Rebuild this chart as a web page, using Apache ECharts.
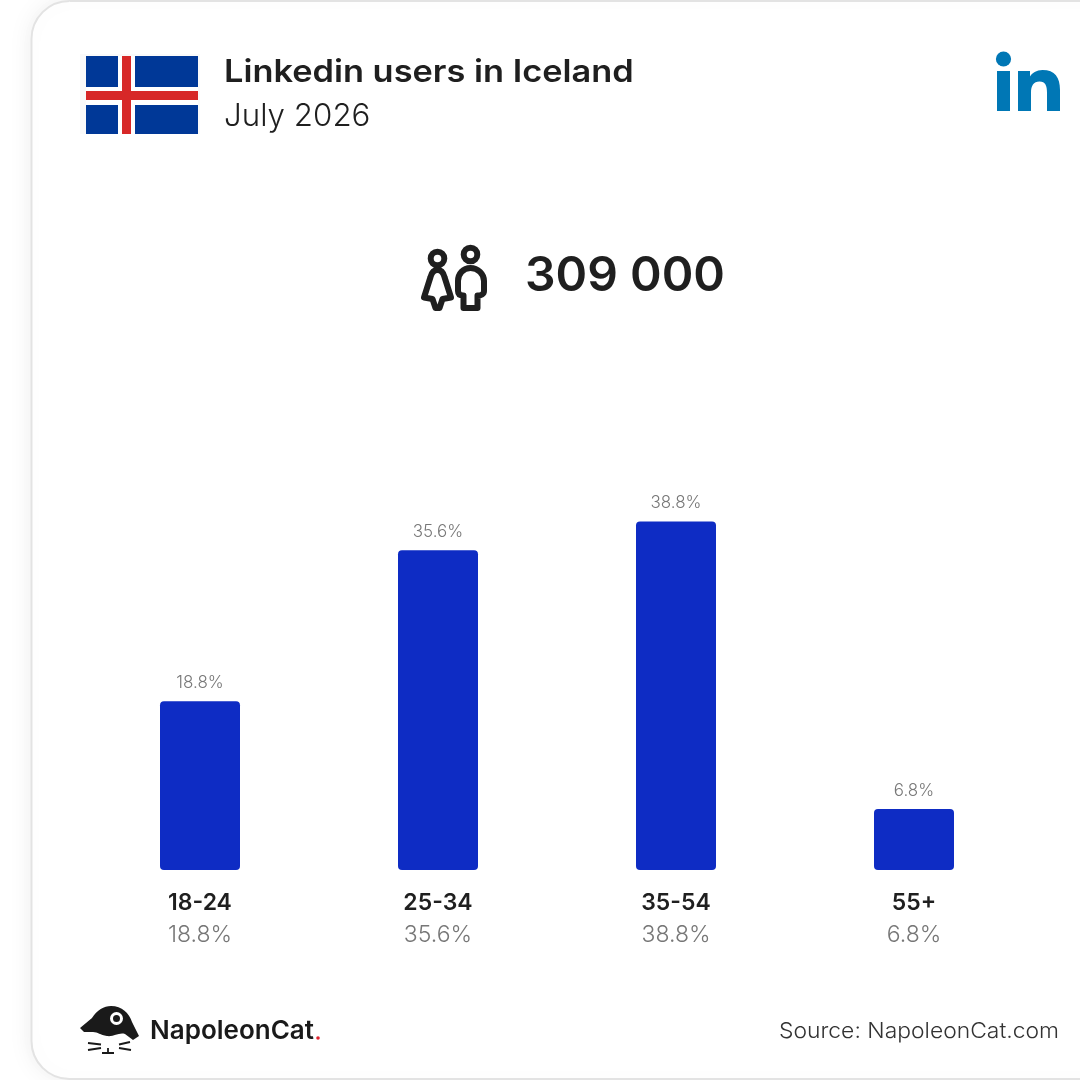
<!DOCTYPE html>
<html>
<head>
<meta charset="utf-8">
<style>html,body{margin:0;padding:0;background:#fff}#c{width:1080px;height:1080px}</style>
<script src="https://cdn.jsdelivr.net/npm/echarts@6/dist/echarts.min.js"></script>
</head>
<body>
<div id="c"></div>
<script>
const categories = ['18-24', '25-34', '35-54', '55+'];
const shares = [18.8, 35.6, 38.8, 6.8];
const titleText = 'Linkedin users in Iceland';
const dateText = 'July 2026';
const totalText = '309 000';
const sourceText = 'Source: NapoleonCat.com';
const brandText = 'NapoleonCat';

const FONT = 'Inter, "Open Sans", sans-serif';
const chart = echarts.init(document.getElementById('c'), null, {renderer: 'canvas'});

const ink = '#1f1f1f';
let shapeCount = 0;
const pathEl = (pathData, style, z) => {
  const name = 'iconPath' + (shapeCount++);
  echarts.graphic.registerShape(name, echarts.graphic.extendPath(pathData, {}));
  return {type: name, z: z || 3, style};
};
const rect = (x, y, width, height, fill, z) => ({type: 'rect', shape: {x, y, width, height}, style: {fill}, z: z || 2});
const txt = (x, y, text, fontSize, fontWeight, fill, align, scaleX) => ({
  type: 'text', x, y, z: 5, scaleX: scaleX || 1,
  style: {text, fontSize, fontWeight, fill, fontFamily: FONT, align: align || 'left', verticalAlign: 'middle'}
});

const graphic = [
  {type: 'rect', z: 0, shape: {x: 31.5, y: 1, width: 1100, height: 1078, r: 38},
    style: {fill: '#fff', stroke: '#e3e3e3', lineWidth: 2, shadowBlur: 26, shadowColor: 'rgba(0,0,0,0.07)'}},
  rect(80, 54, 120, 80, '#fafafa'),
  rect(86, 56, 112, 78, '#003897'),
  rect(86, 87, 112, 18, '#ffffff', 3),
  rect(118, 56, 17, 78, '#ffffff', 3),
  rect(86, 91, 112, 9, '#d72828', 4),
  rect(122, 56, 9, 78, '#d72828', 4),
  txt(224, 73, titleText, 31, 600, ink, 'left', 1.108),
  txt(224, 116.5, dateText, 31, 300, ink, 'left', 1.01),
  {type: 'circle', z: 3, shape: {cx: 1003.5, cy: 59, r: 7.6}, style: {fill: '#0077b5'}},
  rect(997, 71, 13, 40, '#0077b5'),
  pathEl('M1018 71H1030V76.5C1032 73 1036.5 70 1042.5 70C1055 70 1060 77.5 1060 90V111H1047V92.5C1047 86 1045.5 81.5 1039.5 81.5C1033.5 81.5 1031 86 1031 92.5V111H1018Z',
    {fill: '#0077b5'}),
  {type: 'circle', z: 3, shape: {cx: 437.5, cy: 258.5, r: 6.8}, style: {fill: 'none', stroke: ink, lineWidth: 6}},
  {type: 'circle', z: 3, shape: {cx: 470.5, cy: 254.5, r: 6.8}, style: {fill: 'none', stroke: ink, lineWidth: 6}},
  pathEl('M437.5 270C433 270 431.5 273 430.5 277L424 297.5L432.5 299L435.5 308H439.5L442.5 299L451 297.5L444.5 277C443.5 273 442 270 437.5 270Z',
    {fill: 'none', stroke: ink, lineWidth: 6, lineJoin: 'round'}),
  pathEl('M470.5 268C463 268 458 274 458 281V291C458 294 460 295.5 463.5 295.5V308H477.5V295.5C481 295.5 484 294 484 291V281C484 274 478 268 470.5 268Z',
    {fill: 'none', stroke: ink, lineWidth: 6, lineJoin: 'round'}),
  txt(525, 277, totalText, 48, 600, ink, 'left', 1.0),
  pathEl('M80 1028L92 1018C97 1010 104 1006 111 1006C122 1006 129 1013 132 1022L139 1036L133 1040L125 1034C119 1032 114 1037 107 1036C100 1035 98 1032 93 1032L84 1032Z',
    {fill: '#1a1a1a'}),
  {type: 'circle', z: 4, shape: {cx: 116.5, cy: 1018.5, r: 5}, style: {fill: 'none', stroke: '#ffffff', lineWidth: 3}},
  pathEl('M88 1043L101 1044.5M88 1050L101 1048M130 1042L119 1044.5M131 1050L119 1048M102 1053H114M108 1048V1053',
    {fill: 'none', stroke: '#1a1a1a', lineWidth: 1.8}, 4),
  txt(150, 1031, brandText, 26, 600, '#1a1a1a', 'left', 1.0),
  {type: 'circle', z: 5, shape: {cx: 318, cy: 1038, r: 1.8}, style: {fill: '#e0242f'}},
  txt(1059, 1031.5, sourceText, 22, 300, '#333333', 'right', 1.04)
];

chart.setOption({
  animation: false,
  backgroundColor: '#ffffff',
  graphic: graphic,
  grid: {left: 81, width: 952, top: 421, height: 449},
  xAxis: {
    type: 'category',
    data: categories,
    axisLine: {show: false},
    axisTick: {show: false},
    axisLabel: {
      margin: 17,
      formatter: (v, i) => '{a|' + v + '}\n{b|' + shares[i].toFixed(1) + '%}',
      rich: {
        a: {fontFamily: FONT, fontSize: 23, fontWeight: 600, color: ink, lineHeight: 32, align: 'center'},
        b: {fontFamily: FONT, fontSize: 23, fontWeight: 300, color: '#777777', lineHeight: 32, align: 'center'}
      }
    }
  },
  yAxis: {type: 'value', min: 0, max: 50, show: false, splitLine: {show: false}},
  series: [{
    type: 'bar',
    data: shares,
    barWidth: 80,
    itemStyle: {color: '#0e2cc4', borderRadius: 4},
    label: {
      show: true, position: 'top', distance: 10,
      formatter: p => p.value.toFixed(1) + '%',
      fontFamily: FONT, fontSize: 17, fontWeight: 300, color: '#777777'
    }
  }]
});
</script>
</body>
</html>
